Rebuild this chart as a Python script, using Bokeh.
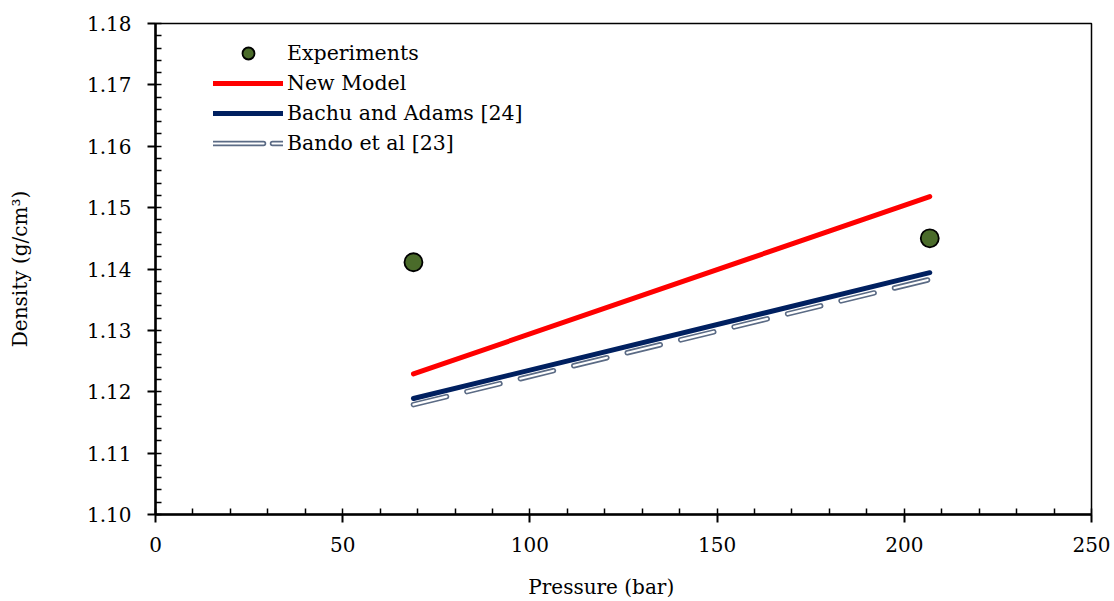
from bokeh.plotting import figure
from bokeh.models import (Range1d, Legend, LegendItem, FixedTicker, CustomJSTickFormatter)
from bokeh.embed import file_html
from bokeh.resources import INLINE

# ---- data ----
pressure = [68.9, 206.8]
exp_pressure = [68.9, 206.8]
experiments = [1.1411, 1.1450]
new_model = [1.1229, 1.1518]
bachu_adams = [1.1189, 1.1394]
bando = [1.1179, 1.1383]
x_ticks = [0, 50, 100, 150, 200, 250]
y_ticks = [1.10, 1.11, 1.12, 1.13, 1.14, 1.15, 1.16, 1.17, 1.18]

FONT = "DejaVu Serif"

p = figure(width=1114, height=601, output_backend="svg", toolbar_location=None,
           x_range=Range1d(0, 250), y_range=Range1d(1.10, 1.18),
           min_border_left=155, min_border_right=23, min_border_top=23, min_border_bottom=86)
p.background_fill_color = "white"
p.border_fill_color = "white"
p.outline_line_color = "black"
p.outline_line_width = 1.5
p.xgrid.visible = False
p.ygrid.visible = False

r_new = p.line(pressure, new_model, line_color="#FF0000", line_width=5, line_cap="round")
r_bachu = p.line(pressure, bachu_adams, line_color="#002060", line_width=5, line_cap="round")
r_bando_o = p.line(pressure, bando, line_color="#5B6B85", line_width=5.5, line_cap="round",
                   line_dash="34 21")
r_bando_i = p.line(pressure, bando, line_color="white", line_width=2.2, line_cap="round",
                   line_dash="34 21")
r_exp = p.scatter(exp_pressure, experiments, marker="circle", size=18,
                  fill_color="#4A6B2A", line_color="black", line_width=1.8)

# legend-only renderers for the Bando swatch (NaN data: nothing drawn in the plot)
nan_pts = [float("nan")] * len(pressure)
lg_bando_o = p.line(nan_pts, nan_pts, line_color="#5B6B85", line_width=5.5,
                    line_cap="round", line_dash="50 9")
lg_bando_i = p.line(nan_pts, nan_pts, line_color="white", line_width=2.2,
                    line_cap="round", line_dash="50 9")

# axes
for ax in (p.xaxis[0], p.yaxis[0]):
    ax.axis_line_width = 2.5
    ax.axis_line_color = "black"
    ax.major_tick_line_width = 2
    ax.major_tick_line_color = "black"
    ax.minor_tick_line_width = 1.5
    ax.minor_tick_line_color = "black"
    ax.major_tick_out = 8
    ax.major_tick_in = 0
    ax.minor_tick_in = 6
    ax.minor_tick_out = 0
    ax.major_label_text_font = FONT
    ax.major_label_text_font_size = "20px"
    ax.major_label_text_color = "black"
    ax.axis_label_text_font = FONT
    ax.axis_label_text_font_size = "20px"
    ax.axis_label_text_font_style = "normal"
    ax.axis_label_text_color = "black"

p.xaxis.ticker = FixedTicker(ticks=x_ticks, minor_ticks=list(range(0, 251, 10)))
p.yaxis.ticker = FixedTicker(ticks=y_ticks,
                             minor_ticks=[round(1.10 + 0.002 * i, 3) for i in range(41)])
p.yaxis.formatter = CustomJSTickFormatter(code="return tick.toFixed(2);")
p.yaxis.axis_label = "Density (g/cm³)"
# trailing no-break spaces shift the centred label left, as in the reference
p.xaxis.axis_label = "Pressure (bar)" + "\u00a0" * 7
p.xaxis.major_label_standoff = 14
p.yaxis.major_label_standoff = 16
p.xaxis.axis_label_standoff = 20
p.yaxis.axis_label_standoff = 52

legend = Legend(items=[
    LegendItem(label="Experiments", renderers=[r_exp]),
    LegendItem(label="New Model", renderers=[r_new]),
    LegendItem(label="Bachu and Adams [24]", renderers=[r_bachu]),
    LegendItem(label="Bando et al [23]", renderers=[lg_bando_o, lg_bando_i]),
], location=(58, 356), orientation="vertical")
legend.border_line_color = None
legend.background_fill_alpha = 0
legend.padding = 0
legend.margin = 0
legend.spacing = 0
legend.glyph_width = 70
legend.glyph_height = 30
legend.label_height = 30
legend.label_standoff = 4
legend.label_text_font = FONT
legend.label_text_font_size = "20.5px"
legend.label_text_color = "black"
p.add_layout(legend, "center")

open("out.html", "w").write(file_html(p, INLINE))
